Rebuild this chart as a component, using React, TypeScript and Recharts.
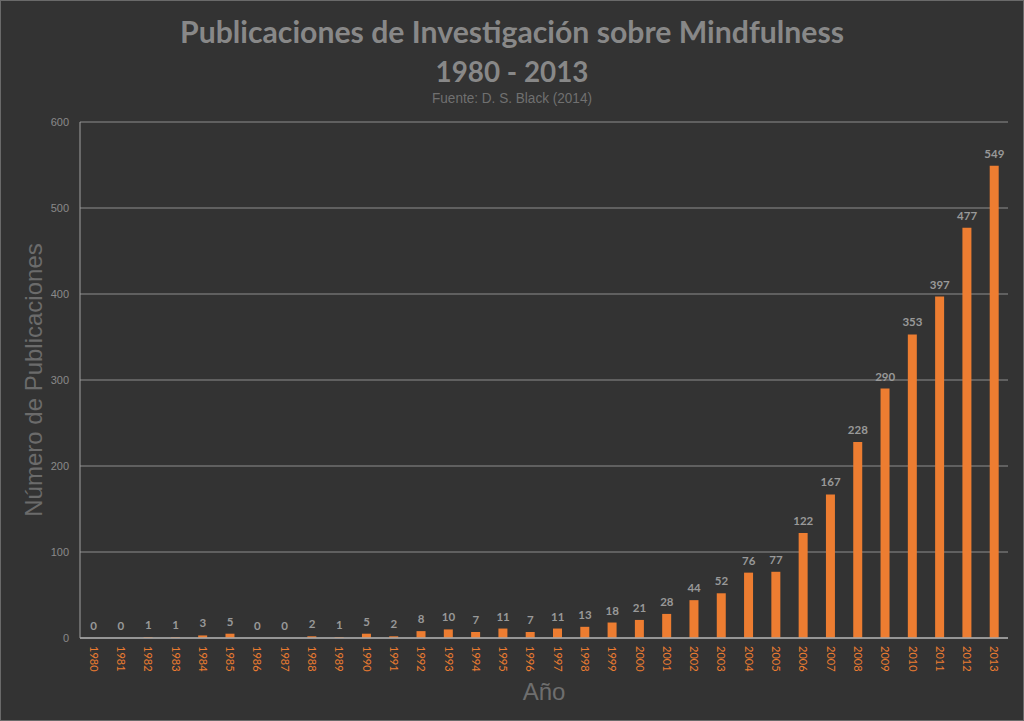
import React from "react";
import { ComposedChart, Bar, Line, XAxis, YAxis, CartesianGrid, LabelList, Label } from "recharts";

const years = [
  "1980", "1981", "1982", "1983", "1984", "1985", "1986", "1987", "1988", "1989",
  "1990", "1991", "1992", "1993", "1994", "1995", "1996", "1997", "1998", "1999",
  "2000", "2001", "2002", "2003", "2004", "2005", "2006", "2007", "2008", "2009",
  "2010", "2011", "2012", "2013",
];
const publications = [
  0, 0, 1, 1, 3, 5, 0, 0, 2, 1,
  5, 2, 8, 10, 7, 11, 7, 11, 13, 18,
  21, 28, 44, 52, 76, 77, 122, 167, 228, 290,
  353, 397, 477, 549,
];
const yTicks = [0, 100, 200, 300, 400, 500, 600];

const titleLine1 = "Publicaciones de Investigación sobre Mindfulness";
const titleLine2 = "1980 - 2013";
const subtitle = "Fuente: D. S. Black (2014)";
const yAxisTitle = "Número de Publicaciones";
const xAxisTitle = "Año";

const data = years.map((y, i) => ({ year: y, value: publications[i] }));

const ORANGE = "#ED7D31";
const BG = "#333333";

const XTick = (props: any) => {
  const { x, y, payload } = props;
  return (
    <g transform={`translate(${x},${y})`}>
      <text
        x={0}
        y={0}
        dy="0.36em"
        transform="rotate(90)"
        textAnchor="start"
        fill={ORANGE}
        fontSize={11}
        fontFamily="Lato, 'Liberation Sans', sans-serif"
      >
        {payload.value}
      </text>
    </g>
  );
};

const YTitle = (props: any) => {
  const { viewBox } = props;
  const cy = viewBox.y + viewBox.height / 2;
  const cx = viewBox.x + 42;
  return (
    <text
      x={cx}
      y={cy}
      transform={`rotate(-90, ${cx}, ${cy})`}
      textAnchor="middle"
      fill="#6b6b6b"
      fontSize={24}
      fontFamily="'Liberation Sans', Arial, sans-serif"
    >
      {yAxisTitle}
    </text>
  );
};

export default function App() {
  return (
    <div
      style={{
        position: "fixed",
        left: 0,
        top: 0,
        width: 1024,
        height: 721,
        background: BG,
        overflow: "hidden",
      }}
    >
      <svg
        width={1024}
        height={721}
        style={{ position: "absolute", left: 0, top: 0, pointerEvents: "none" }}
      >
        <text
          x={512}
          y={43}
          textAnchor="middle"
          fill="#888888"
          fontSize={30}
          fontWeight="bold"
          fontFamily="Lato, 'Open Sans', sans-serif"
          textLength={664}
          lengthAdjust="spacingAndGlyphs"
        >
          {titleLine1}
        </text>
        <text
          x={512}
          y={81.5}
          textAnchor="middle"
          fill="#888888"
          fontSize={29}
          fontWeight="bold"
          fontFamily="Lato, 'Open Sans', sans-serif"
          textLength={153}
          lengthAdjust="spacingAndGlyphs"
        >
          {titleLine2}
        </text>
        <text
          x={512}
          y={103.3}
          textAnchor="middle"
          fill="#707070"
          fontSize={14}
          fontFamily="'Liberation Sans', Arial, sans-serif"
          textLength={160}
          lengthAdjust="spacingAndGlyphs"
        >
          {subtitle}
        </text>
      </svg>
      <div style={{ position: "absolute", left: 0, top: 0 }}>
        <ComposedChart
          width={1024}
          height={721}
          data={data}
          margin={{ top: 122, right: 16, bottom: 0, left: 0 }}
          barCategoryGap={0}
        >
          <CartesianGrid vertical={false} stroke="#8e8e8e" strokeWidth={1} />
          <XAxis
            dataKey="year"
            interval={0}
            height={83}
            tick={<XTick />}
            tickLine={false}
            axisLine={{ stroke: "#a8a8a8", strokeWidth: 1.5 }}
          >
            <Label
              value={xAxisTitle}
              position="insideBottom"
              offset={21}
              fill="#6e6e6e"
              fontSize={24}
              fontFamily="'Liberation Sans', Arial, sans-serif"
            />
          </XAxis>
          <YAxis
            width={80}
            domain={[0, 600]}
            ticks={yTicks}
            tickLine={false}
            tickMargin={5}
            axisLine={{ stroke: "#a0a0a0", strokeWidth: 1 }}
            tick={{ fill: "#8a8a8a", fontSize: 11, fontFamily: "'Liberation Sans', Arial, sans-serif" }}
          >
            <Label content={<YTitle />} position="insideLeft" />
          </YAxis>
          <Bar dataKey="value" fill={ORANGE} barSize={9} isAnimationActive={false} />
          <Line
            dataKey="value"
            stroke="none"
            dot={false}
            activeDot={false}
            legendType="none"
            isAnimationActive={false}
          >
            <LabelList
              dataKey="value"
              position="top"
              offset={8}
              fill="#999999"
              fontSize={11.5}
              fontWeight="bold"
              fontFamily="Lato, 'Open Sans', sans-serif"
            />
          </Line>
        </ComposedChart>
      </div>
      <div
        style={{
          position: "absolute",
          left: 0,
          top: 0,
          width: 1024,
          height: 721,
          boxSizing: "border-box",
          border: "1px solid #6a6a6a",
          pointerEvents: "none",
        }}
      />
    </div>
  );
}
